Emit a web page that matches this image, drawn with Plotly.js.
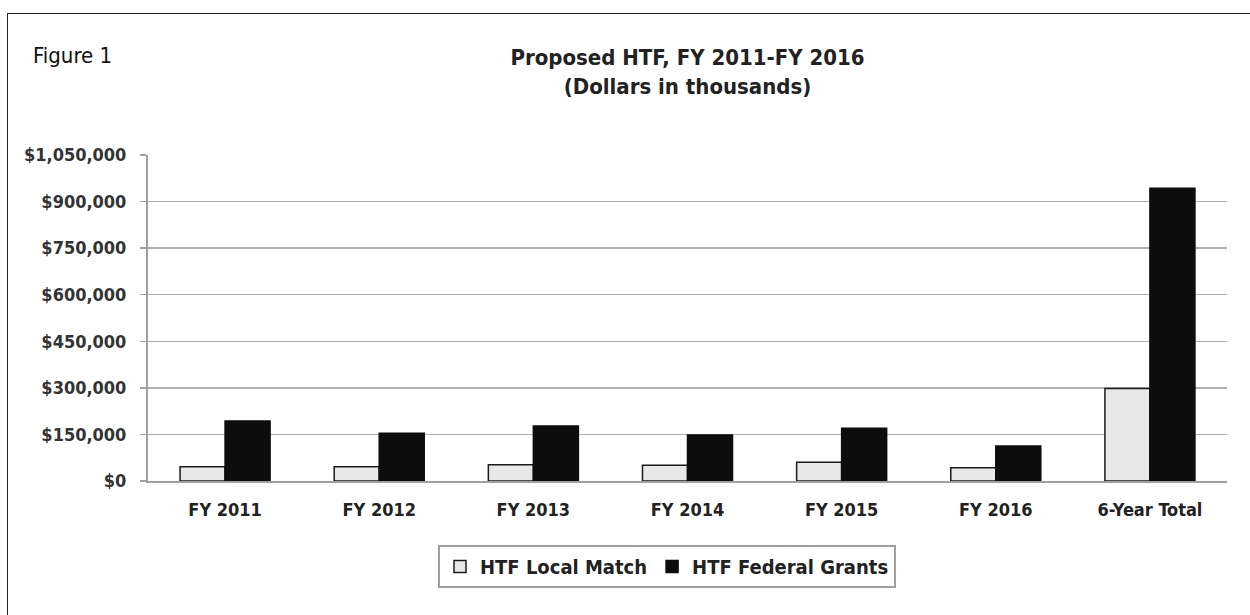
<!DOCTYPE html>
<html>
<head>
<meta charset="utf-8">
<script src="https://cdn.plot.ly/plotly-3.0.1.min.js"></script>
<style>
  html, body { margin: 0; padding: 0; background: #ffffff; overflow: hidden; }
  #chart { width: 1250px; height: 615px; }
  #frame { position: absolute; left: 7px; top: 13px; width: 1300px; height: 700px;
           border: 1.5px solid #222; pointer-events: none; }
</style>
</head>
<body>
<div id="chart"></div>
<div id="frame"></div>
<script>
const categories = ["FY 2011", "FY 2012", "FY 2013", "FY 2014", "FY 2015", "FY 2016", "6-Year Total"];
const localMatch = [46000, 46000, 52500, 50500, 60000, 43000, 298000];
const federalGrants = [193000, 153500, 177000, 148000, 170000, 112700, 943000];
const yTicks = [0, 150000, 300000, 450000, 600000, 750000, 900000, 1050000];
const seriesNames = ["HTF Local Match", "HTF Federal Grants"];

const boldFont = "'DejaVu Sans Condensed', sans-serif";

const traces = [
  {
    type: "bar", name: seriesNames[0], x: categories, y: localMatch,
    marker: { color: "#e8e8e8", line: { color: "#1a1a1a", width: 1.5 } },
    hoverinfo: "x+y"
  },
  {
    type: "bar", name: seriesNames[1], x: categories, y: federalGrants,
    marker: { color: "#0d0d0d", line: { color: "#0d0d0d", width: 1.5 } },
    hoverinfo: "x+y"
  }
];

const layout = {
  width: 1250, height: 615,
  margin: { l: 148, r: 23, t: 155, b: 134 },
  paper_bgcolor: "#ffffff",
  plot_bgcolor: "#ffffff",
  barmode: "group",
  bargap: 0.416,
  bargroupgap: 0,
  showlegend: true,
  title: {
    text: "Proposed HTF, FY 2011-FY 2016<br>(Dollars in thousands)",
    font: { family: boldFont, size: 22, color: "#222", weight: "bold" },
    xref: "paper", x: 0.5, xanchor: "center",
    yref: "container", y: 1 - 65 / 615, yanchor: "top"
  },
  xaxis: {
    type: "category",
    showgrid: false,
    showline: true, linecolor: "#a0a0a0", linewidth: 2,
    ticks: "", ticklabelstandoff: 11,
    tickfont: { family: boldFont, size: 18, color: "#222", weight: "bold" },
    fixedrange: true
  },
  yaxis: {
    range: [0, 1050000],
    tickvals: yTicks,
    tickformat: "$,",
    showgrid: true, gridcolor: "#b0b0b0", gridwidth: 1.5,
    showline: true, linecolor: "#a0a0a0", linewidth: 2,
    ticks: "outside", ticklen: 6, tickcolor: "#a0a0a0", tickwidth: 1.5,
    ticklabelstandoff: 10,
    tickfont: { family: boldFont, size: 18, color: "#333", weight: "bold" },
    zeroline: false,
    fixedrange: true
  },
  legend: {
    orientation: "h",
    x: 0.481, xanchor: "center",
    y: -0.196, yanchor: "top",
    bordercolor: "#a0a0a0", borderwidth: 2,
    bgcolor: "#ffffff",
    font: { family: boldFont, size: 20, color: "#222", weight: "bold" },
    itemwidth: 30,
    traceorder: "normal"
  },
  annotations: [
    {
      text: "Figure 1",
      xref: "paper", yref: "paper",
      x: (31 - 148) / 1079, y: (481 - 56) / 326,
      xanchor: "left", yanchor: "middle",
      showarrow: false,
      font: { family: "'DejaVu Sans Condensed', sans-serif", size: 22, color: "#111" }
    }
  ]
};

Plotly.newPlot("chart", traces, layout, { displayModeBar: false, staticPlot: true });
</script>
</body>
</html>
